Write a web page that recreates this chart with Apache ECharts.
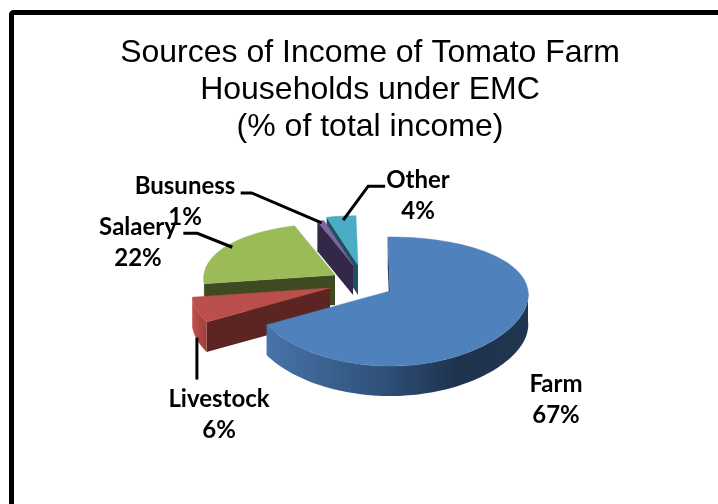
<!DOCTYPE html>
<html>
<head>
<meta charset="utf-8">
<style>html,body{margin:0;padding:0;background:#fff}#chart{width:718px;height:504px}</style>
<script src="https://cdn.jsdelivr.net/npm/echarts@6/dist/echarts.min.js"></script>
</head>
<body>
<div id="chart"></div>
<script>
// Income sources, in percent of total household income
const categories = ['Farm', 'Livestock', 'Salaery', 'Busuness', 'Other'];
const shares = [67, 6, 22, 1, 4];
const titleLines = ['Sources of Income of Tomato Farm', 'Households under EMC', '(% of total income)'];

// Tilted-disc projection of the pie
const pie = { cx: 390, cy: 291, rx: 138, ry: 62.8, px: 0.06, py: 0.163, depth: 30, startDeg: -1 };

// Per-slice drawing style, in the same order as the categories
const topColors = ['#4f81bd', '#bb4f4c', '#9bbb59', '#8064a2', '#4bacc6'];
const faceColors = ['#1f3450', '#5c2523', '#3f4a22', '#342848', '#1e5260'];
const rimColors = [
  [[0, '#4774a9'], [0.45, '#2f5078'], [0.72, '#1e334e'], [1, '#20364f']],
  [[0, '#c0504d'], [1, '#a03f3c']],
  [[0, '#5a6a30'], [1, '#3f4a22']],
  [[0, '#342848'], [1, '#342848']],
  [[0, '#1e5260'], [1, '#1e5260']]
];
const explodeOffsets = [[0, 0], [-60, -3], [-55, -16], [-37, -26], [-32, -26]];
const sliceScales = [1, 1, 0.95, 0.83, 0.9];
const paintOrder = [5, 4, 3, 2, 1];

// Label centres; each leader path is shifted off the rim by its first entry, then stepped
const labelCenters = [[556, 400], [219, 415], [138, 243], [185, 202], [418, 196]];
const leaderPaths = [
  null,
  [[0, 28], [0, 42]],
  [[6, 1], [-35, -14], [-14, 0]],
  [[1, 2], [-70, -30], [-11, 0]],
  [[2, 4], [25, -34], [17, 0]]
];

const total = shares.reduce((a, b) => a + b, 0);
const startShare = shares.map((_, i) => shares.slice(0, i).reduce((a, b) => a + b, 0));

function project(deg, r) {
  const t = deg * Math.PI / 180;
  const u = r * Math.sin(t), v = -r * Math.cos(t);
  return [pie.rx * u / (1 - pie.px * v), pie.ry * v / (1 - pie.py * v)];
}
function rimArc(a0, a1, place) {
  const pts = [], n = Math.max(2, Math.ceil(Math.abs(a1 - a0) / 2));
  for (let k = 0; k <= n; k++) pts.push(place(a0 + (a1 - a0) * k / n));
  return pts;
}
const gradient = stops => new echarts.graphic.LinearGradient(0, 0, 1, 0,
  stops.map(s => ({ offset: s[0], color: s[1] })));

function renderSlice(params, api) {
  const i = api.value(0), value = api.value(1);
  const a0 = pie.startDeg + startShare[i] / total * 360;
  const a1 = a0 + value / total * 360;
  const ox = pie.cx + explodeOffsets[i][0], oy = pie.cy + explodeOffsets[i][1];
  const s = sliceScales[i], d = pie.depth;
  const place = a => { const p = project(a, s); return [ox + p[0], oy + p[1]]; };
  const apex = [ox, oy];
  const rim = rimArc(a0, a1, place);
  const z = paintOrder[i] * 10;
  const children = [];

  // cut face along the leading edge
  const first = place(a0);
  children.push({
    type: 'polygon', z2: z,
    shape: { points: [apex, first, [first[0], first[1] + d], [apex[0], apex[1] + d]] },
    style: { fill: faceColors[i] }
  });

  // curved outer wall on the front half of the disc
  const w0 = Math.max(a0, 90), w1 = Math.min(a1, 270);
  if (w1 > w0) {
    const edge = rimArc(w0, w1, place);
    const lower = edge.map(p => [p[0], p[1] + d]).reverse();
    children.push({
      type: 'polygon', z2: z + 1,
      shape: { points: edge.concat(lower) },
      style: { fill: gradient(rimColors[i]) }
    });
  }

  // top face
  children.push({
    type: 'polygon', z2: z + 2,
    shape: { points: [apex].concat(rim) },
    style: { fill: topColors[i], stroke: topColors[i], lineWidth: 0.5 }
  });

  // leader line from the rim towards the label
  if (leaderPaths[i]) {
    const mid = place((a0 + a1) / 2);
    let p = [mid[0] + leaderPaths[i][0][0], mid[1] + leaderPaths[i][0][1]];
    const pts = [p];
    leaderPaths[i].slice(1).forEach(step => { p = [p[0] + step[0], p[1] + step[1]]; pts.push(p); });
    children.push({
      type: 'polyline', z2: 90,
      shape: { points: pts },
      style: { stroke: '#000', lineWidth: 3, fill: null }
    });
  }

  // category and share
  children.push({
    type: 'text', z2: 100,
    style: {
      x: labelCenters[i][0], y: labelCenters[i][1],
      text: categories[i] + '\n' + value + '%',
      font: 'bold 24px Lato, sans-serif',
      lineHeight: 31, fill: '#000',
      align: 'center', verticalAlign: 'middle'
    }
  });
  return { type: 'group', children };
}

const chart = echarts.init(document.getElementById('chart'), null, { renderer: 'canvas' });
chart.setOption({
  animation: false,
  backgroundColor: '#fff',
  title: {
    text: titleLines.join('\n'),
    left: 365, top: 30, textAlign: 'center',
    textStyle: {
      fontFamily: '"Liberation Sans", Arial, sans-serif',
      fontSize: 32, fontWeight: 'normal', lineHeight: 37, color: '#000'
    }
  },
  graphic: [{
    type: 'rect', silent: true,
    shape: { x: 11.5, y: 12.5, width: 800, height: 600, r: 2 },
    style: { fill: null, stroke: '#000', lineWidth: 5 }
  }],
  series: [{
    type: 'custom',
    coordinateSystem: 'none',
    silent: true,
    renderItem: renderSlice,
    data: categories.map((name, i) => ({ name, value: [i, shares[i]] }))
  }]
});
</script>
</body>
</html>
